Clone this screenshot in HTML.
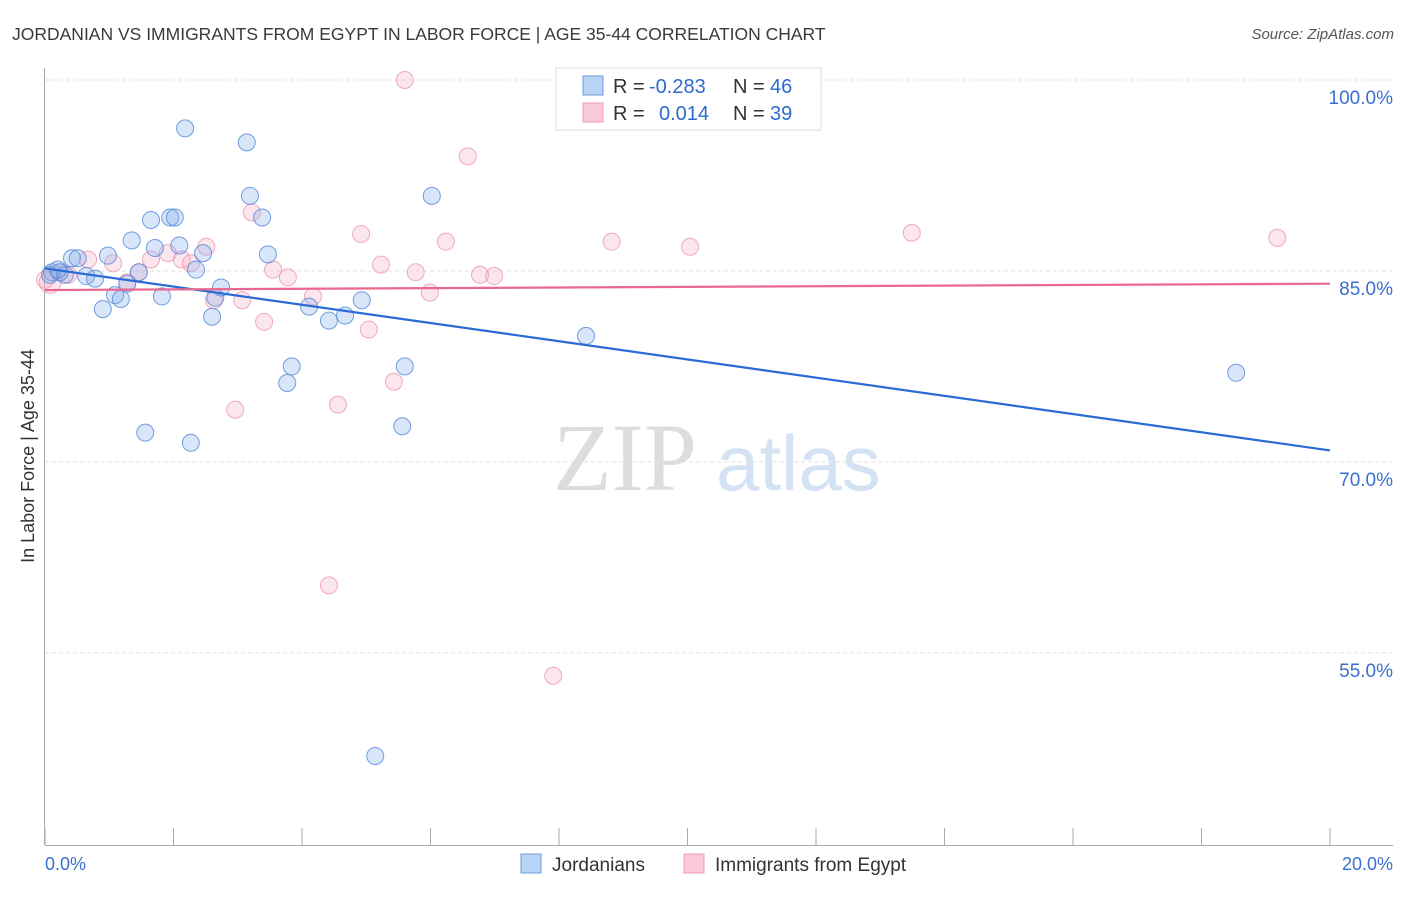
<!DOCTYPE html>
<html><head><meta charset="utf-8">
<style>
body{margin:0;background:#fff;font-family:"Liberation Sans",sans-serif;}
</style></head>
<body>
<svg id="chart" width="1406" height="892" xmlns="http://www.w3.org/2000/svg" font-family="Liberation Sans, sans-serif">
<text x="12" y="40" font-size="17.5" fill="#3a3a3a">JORDANIAN VS IMMIGRANTS FROM EGYPT IN LABOR FORCE | AGE 35-44 CORRELATION CHART</text>
<text x="1394" y="39" font-size="15" fill="#555" text-anchor="end" font-style="italic">Source: ZipAtlas.com</text>
<g>
<text x="553" y="490" font-size="96" fill="#ddd" font-family="Liberation Serif, serif">ZIP</text>
<text x="716" y="490" font-size="78" fill="#d4e2f4">atlas</text>
</g>
<g id="grid"></g>
<g id="axes"></g>
<g id="pink"></g>
<g id="blue"></g>
<g id="trends"></g>
<g font-size="20">
<rect x="556" y="68" width="265" height="62" fill="#fff" stroke="#ddd"/>
<rect x="583" y="76" width="20" height="19" fill="#b9d3f5" stroke="#6b9be0"/>
<rect x="583" y="103" width="20" height="19" fill="#f9c9d8" stroke="#ef9fb9"/>
<text x="613" y="93" fill="#333">R =</text>
<text x="649" y="93" fill="#2e6ad0">-0.283</text>
<text x="733" y="93" fill="#333">N =</text>
<text x="770" y="93" fill="#2e6ad0">46</text>
<text x="613" y="120" fill="#333">R =</text>
<text x="659" y="120" fill="#2e6ad0">0.014</text>
<text x="733" y="120" fill="#333">N =</text>
<text x="770" y="120" fill="#2e6ad0">39</text>
</g>
<g>
<rect x="521" y="854" width="20" height="19" fill="#b9d3f5" stroke="#6b9be0"/>
<text x="552" y="871" font-size="19" fill="#333">Jordanians</text>
<rect x="684" y="854" width="20" height="19" fill="#f9c9d8" stroke="#ef9fb9"/>
<text x="715" y="871" font-size="19" fill="#333">Immigrants from Egypt</text>
</g>
<text transform="translate(34,456) rotate(-90)" font-size="18" fill="#333" text-anchor="middle">In Labor Force | Age 35-44</text>
</svg>
<script>
const yTicks=[100,85,70,55];
const yTickLabels=["100.0%","85.0%","70.0%","55.0%"];
const xTickLabels=["0.0%","20.0%"];
const blueX=[0.11,0.23,0.42,0.51,0.64,0.78,0.90,0.98,1.09,1.18,1.28,1.35,1.46,1.56,1.65,1.71,1.82,1.95,2.02,2.09,2.18,2.27,2.35,2.46,2.60,2.65,2.74,3.14,3.19,3.38,3.47,3.77,3.84,4.11,4.42,4.67,4.93,5.14,5.56,5.60,6.02,8.42,18.54,0.08,0.31,0.20];
const blueY=[84.9,84.9,86.0,86.0,84.6,84.4,82.0,86.2,83.1,82.8,84.0,87.4,84.9,72.3,89.0,86.8,83.0,89.2,89.2,87.0,96.2,71.5,85.1,86.4,81.4,82.9,83.7,95.1,90.9,89.2,86.3,76.2,77.5,82.2,81.1,81.5,82.7,46.9,72.8,77.5,90.9,79.9,77.0,84.7,84.7,85.1];
const pinkX=[0.08,0.23,0.36,0.67,1.06,1.28,1.46,1.65,1.91,2.13,2.27,2.51,2.63,2.96,3.07,3.22,3.41,3.55,3.78,4.17,4.42,4.56,4.92,5.04,5.23,5.43,5.60,5.77,5.99,6.24,6.58,6.77,6.99,7.91,8.82,10.04,13.49,19.18,0];
const pinkY=[84.1,84.9,84.7,85.9,85.6,84.1,84.9,85.9,86.4,85.9,85.6,86.9,82.7,74.1,82.7,89.6,81.0,85.1,84.5,83.0,60.3,74.5,87.9,80.4,85.5,76.3,100.0,84.9,83.3,87.3,94.0,84.7,84.6,53.2,87.3,86.9,88.0,87.6,84.3];
const blueTrend=[85.2,70.9];
const pinkTrend=[83.5,84.0];
const trendX=[0,20];
const NS="http://www.w3.org/2000/svg";
const xs=v=>45+v*64.25;
const ys=v=>80+(100-v)*12.73;
function mk(t,a,p){const e=document.createElementNS(NS,t);for(const k in a)e.setAttribute(k,a[k]);p.appendChild(e);return e;}
const grid=document.getElementById('grid');
yTicks.forEach((t,i)=>{
 const l=mk('line',{x1:45,x2:1393,y1:ys(t),y2:ys(t),stroke:'#e2e2e2','stroke-dasharray':'4,3'},grid);
 
 
 const tx=mk('text',{x:1393,y:ys(t)+24,'font-size':19,fill:'#3a6fd0','text-anchor':'end'},grid);
 tx.textContent=yTickLabels[i];
 
 
});
const axes=document.getElementById('axes');
const ya=mk('line',{x1:44.5,x2:44.5,y1:68,y2:845,stroke:'#aaa'},axes);


const xa=mk('line',{x1:45,x2:1393,y1:845.5,y2:845.5,stroke:'#aaa'},axes);


for(let i=0;i<=10;i++){
 const t=mk('line',{x1:xs(i*2),x2:xs(i*2),y1:828,y2:845,stroke:'#aaa'},axes);
 
 
}
[[0,'start',45],[20,'end',1393]].forEach((d,i)=>{
 const t=mk('text',{x:d[2],y:870,'font-size':18,fill:'#3a6fd0','text-anchor':d[1]},axes);
 t.textContent=xTickLabels[i];
 
 
});
function pts(X,Y,g,fill,stroke,name){
 X.forEach((x,i)=>{
  const c=mk('circle',{cx:xs(x),cy:ys(Y[i]),r:(x===0.08&&name==='pink-point')?11:8.5,fill:fill,stroke:stroke,'stroke-width':1},g);
  
  
 });
}
pts(pinkX,pinkY,document.getElementById('pink'),'rgba(244,165,192,0.28)','rgba(236,150,178,0.8)','pink-point');
pts(blueX,blueY,document.getElementById('blue'),'rgba(130,172,236,0.3)','rgba(80,135,215,0.8)','blue-point');
const tr=document.getElementById('trends');
const bl=mk('line',{x1:xs(trendX[0]),y1:ys(blueTrend[0]),x2:xs(trendX[1]),y2:ys(blueTrend[1]),stroke:'#2a6bd6','stroke-width':2.2},tr);


const pl=mk('line',{x1:xs(trendX[0]),y1:ys(pinkTrend[0]),x2:xs(trendX[1]),y2:ys(pinkTrend[1]),stroke:'#e8688f','stroke-width':2.2},tr);


</script>
</body></html>
